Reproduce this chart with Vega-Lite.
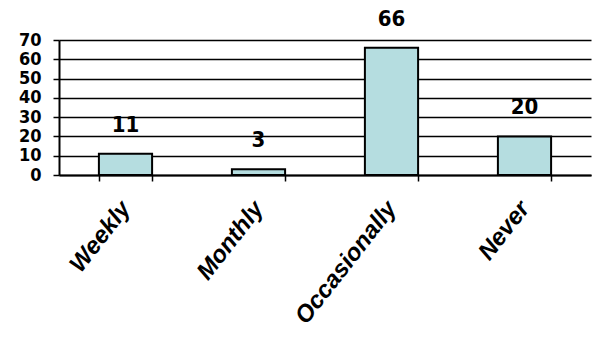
{
  "$schema": "https://vega.github.io/schema/vega-lite/v6.json",
  "width": 532,
  "height": 135,
  "autosize": "none",
  "padding": {"left": 59, "top": 40, "right": 1, "bottom": 163},
  "background": "white",
  "config": {"view": {"stroke": null}},
  "data": {"values": [
    {"category": "Weekly", "value": 11},
    {"category": "Monthly", "value": 3},
    {"category": "Occasionally", "value": 66},
    {"category": "Never", "value": 20}
  ]},
  "encoding": {
    "x": {"field": "category", "type": "nominal", "sort": null,
      "scale": {"paddingInner": 0.6, "paddingOuter": 0.3},
      "axis": {"title": null, "tickBand": "extent", "labelAngle": -52, "labelAlign": "right", "labelBaseline": "middle",
        "labelFont": "Liberation Sans", "labelFontStyle": "italic", "labelFontWeight": "bold", "labelFontSize": 24, "labelColor": "black",
        "labelPadding": 23, "domainColor": "black", "domainWidth": 2, "tickColor": "black", "tickWidth": 1.5, "tickSize": 6}},
    "y": {"field": "value", "type": "quantitative",
      "scale": {"domain": [0, 70], "nice": false},
      "axis": {"title": null, "values": [0, 10, 20, 30, 40, 50, 60, 70], "labelFont": "DejaVu Sans Condensed, sans-serif", "labelFontWeight": "bold", "labelFontSize": 18,
        "labelColor": "black", "labelPadding": 12, "domainColor": "black", "domainWidth": 2, "tickColor": "black", "tickWidth": 1.5, "tickSize": 6,
        "grid": true, "gridColor": "black", "gridWidth": 1.5, "gridOpacity": 1}}
  },
  "layer": [
    {"mark": {"type": "bar", "fill": "#b5dde0", "stroke": "black", "strokeWidth": 2}},
    {"mark": {"type": "text", "baseline": "bottom", "dy": -17, "font": "DejaVu Sans Condensed, sans-serif", "fontWeight": "bold", "fontSize": 22, "color": "black"},
      "encoding": {"text": {"field": "value", "type": "quantitative"}}}
  ]
}
